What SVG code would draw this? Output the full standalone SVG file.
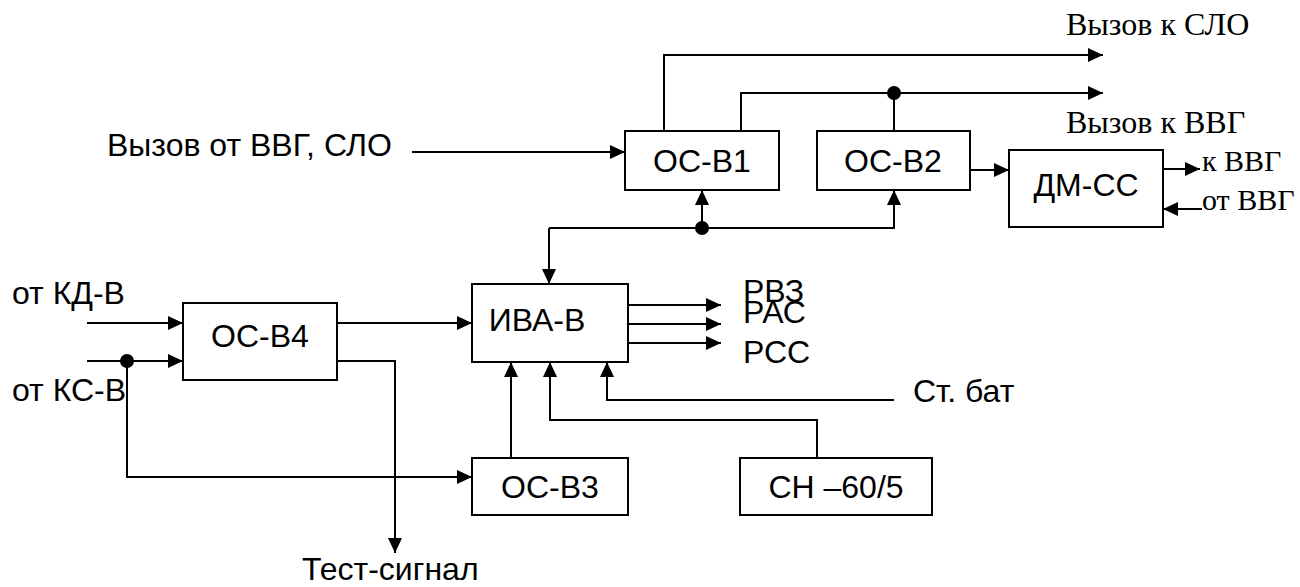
<svg xmlns="http://www.w3.org/2000/svg" width="1300" height="587" viewBox="0 0 1300 587">
<defs>
<marker id="arr" markerUnits="userSpaceOnUse" markerWidth="16" markerHeight="14" refX="15" refY="7" orient="auto">
<path d="M0,0 L15,7 L0,14 Z" fill="#000"/>
</marker>
<style>
.box{fill:#fff;stroke:#000;stroke-width:2}
.ln{fill:none;stroke:#000;stroke-width:2}
.a{font-family:"Liberation Sans",Arial,sans-serif;font-size:32px;fill:#000}
.t{font-family:"Liberation Serif","Times New Roman",serif;font-size:32px;fill:#000}
.ts{font-size:30px}
.c{text-anchor:middle}
</style>
</defs>
<rect width="1300" height="587" fill="#fff"/>
<g id="connectors">
<path class="ln" d="M412,152 H625" marker-end="url(#arr)"/>
<path class="ln" d="M664,131 V55 H1103" marker-end="url(#arr)"/>
<path class="ln" d="M741,131 V93 H1103" marker-end="url(#arr)"/>
<path class="ln" d="M894,131 V93"/>
<circle cx="894" cy="93" r="7"/>
<path class="ln" d="M970,170 H1009" marker-end="url(#arr)"/>
<path class="ln" d="M1163,169 H1200" marker-end="url(#arr)"/>
<path class="ln" d="M1202,209 H1163" marker-end="url(#arr)"/>
<path class="ln" d="M549,228 H894 V190" marker-end="url(#arr)"/>
<path class="ln" d="M549,228 V284" marker-end="url(#arr)"/>
<path class="ln" d="M702,228 V190" marker-end="url(#arr)"/>
<circle cx="702" cy="228" r="7"/>
<path class="ln" d="M628,305 H721" marker-end="url(#arr)"/>
<path class="ln" d="M628,324 H721" marker-end="url(#arr)"/>
<path class="ln" d="M628,343 H721" marker-end="url(#arr)"/>
<path class="ln" d="M894,400 H607 V362" marker-end="url(#arr)"/>
<path class="ln" d="M817,458 V420 H550 V362" marker-end="url(#arr)"/>
<path class="ln" d="M511,458 V362" marker-end="url(#arr)"/>
<path class="ln" d="M87,323 H183" marker-end="url(#arr)"/>
<path class="ln" d="M87,361 H183" marker-end="url(#arr)"/>
<circle cx="127" cy="361" r="7"/>
<path class="ln" d="M127,361 V477 H472" marker-end="url(#arr)"/>
<path class="ln" d="M337,323 H472" marker-end="url(#arr)"/>
<path class="ln" d="M337,361 H395 V553" marker-end="url(#arr)"/>
</g>
<g id="os-v1"><rect class="box" x="625" y="131" width="154" height="59"/><text class="a c" x="702" y="172">ОС-В1</text></g>
<g id="os-v2"><rect class="box" x="817" y="131" width="153" height="59"/><text class="a c" x="893" y="172">ОС-В2</text></g>
<g id="dm-ss"><rect class="box" x="1009" y="150" width="154" height="77"/><text class="a c" x="1086" y="196">ДМ-СС</text></g>
<g id="iva-v"><rect class="box" x="472" y="284" width="156" height="78"/><text class="a c" x="537" y="331">ИВА-В</text></g>
<g id="os-v4"><rect class="box" x="183" y="303" width="154" height="77"/><text class="a c" x="260" y="347">ОС-В4</text></g>
<g id="os-v3"><rect class="box" x="472" y="458" width="156" height="57"/><text class="a c" x="550" y="498">ОС-В3</text></g>
<g id="sn"><rect class="box" x="740" y="458" width="192" height="57"/><text class="a c" x="836" y="498">СН –60/5</text></g>
<g id="labels">
<text class="a" x="107" y="156">Вызов от ВВГ, СЛО</text>
<text class="t" x="1066" y="35">Вызов к СЛО</text>
<text class="t" x="1066" y="133">Вызов к ВВГ</text>
<text class="t ts" x="1202" y="171">к ВВГ</text>
<text class="t ts" x="1202" y="210">от ВВГ</text>
<text class="a" x="743" y="302">РВЗ</text>
<text class="a" x="743" y="323">РАС</text>
<text class="a" x="743" y="363">РСС</text>
<text class="a" x="913" y="402">Ст. бат</text>
<text class="a" x="12" y="304">от КД-В</text>
<text class="a" x="12" y="401">от КС-В</text>
<text class="a" x="302" y="580">Тест-сигнал</text>
</g>
</svg>
